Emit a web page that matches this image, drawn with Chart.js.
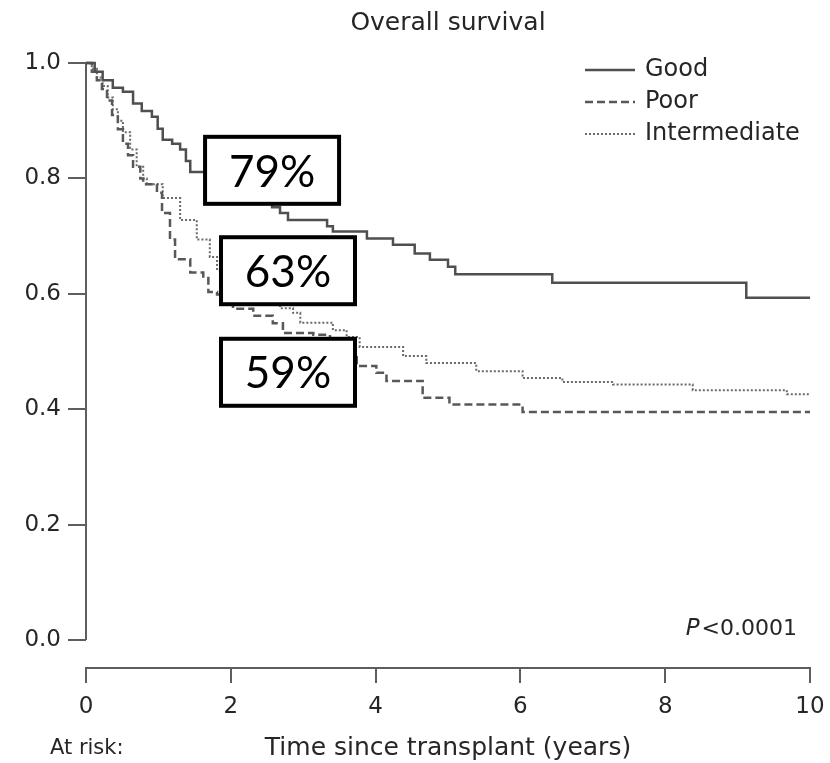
<!DOCTYPE html>
<html>
<head>
<meta charset="utf-8">
<title>Overall survival</title>
<script src="https://cdn.jsdelivr.net/npm/chart.js@4.4.1/dist/chart.umd.min.js"></script>
<style>
    html, body { margin: 0; padding: 0; background: #ffffff; }
    #wrap { width: 830px; height: 763px; }
</style>
</head>
<body>
<div id="wrap"><canvas id="survivalChart" width="830" height="763"></canvas></div>
<script>
// Kaplan-Meier data (time in years, survival proportion)
const goodTimes = [0, 0.12, 0.23, 0.37, 0.51, 0.65, 0.77, 0.91, 0.99, 1.06, 1.19, 1.30, 1.38, 1.44, 1.78, 2.13, 2.43, 2.57, 2.68, 2.79, 3.33, 3.41, 3.88, 4.24, 4.54, 4.75, 5.00, 5.10, 6.44, 9.12, 10.0];
const goodSurv = [1.0, 0.985, 0.97, 0.957, 0.95, 0.93, 0.917, 0.907, 0.886, 0.867, 0.86, 0.85, 0.83, 0.811, 0.79, 0.775, 0.76, 0.75, 0.74, 0.728, 0.717, 0.708, 0.696, 0.685, 0.670, 0.659, 0.647, 0.634, 0.619, 0.593, 0.593];

const poorTimes = [0, 0.08, 0.15, 0.22, 0.29, 0.36, 0.44, 0.51, 0.58, 0.65, 0.75, 0.79, 0.98, 1.05, 1.16, 1.23, 1.44, 1.62, 1.69, 1.81, 2.03, 2.31, 2.58, 2.72, 3.14, 3.37, 3.58, 3.74, 4.01, 4.15, 4.65, 5.02, 6.03, 10.0];
const poorSurv = [1.0, 0.985, 0.97, 0.955, 0.935, 0.91, 0.885, 0.86, 0.84, 0.82, 0.80, 0.79, 0.775, 0.74, 0.694, 0.66, 0.637, 0.630, 0.603, 0.599, 0.574, 0.562, 0.549, 0.532, 0.529, 0.51, 0.49, 0.475, 0.463, 0.449, 0.420, 0.408, 0.395, 0.395];

const intTimes = [0, 0.08, 0.15, 0.23, 0.30, 0.37, 0.44, 0.51, 0.61, 0.70, 0.79, 0.84, 1.06, 1.30, 1.53, 1.71, 1.81, 2.0, 2.33, 2.68, 2.86, 2.96, 3.41, 3.6, 3.78, 4.38, 4.70, 5.39, 6.03, 6.58, 7.28, 8.38, 9.68, 10.0];
const intSurv = [1.0, 0.99, 0.975, 0.96, 0.94, 0.92, 0.90, 0.88, 0.85, 0.82, 0.80, 0.79, 0.766, 0.728, 0.694, 0.664, 0.641, 0.63, 0.60, 0.575, 0.567, 0.55, 0.537, 0.525, 0.508, 0.492, 0.480, 0.466, 0.454, 0.447, 0.443, 0.433, 0.426, 0.426];

const seriesNames = ['Good', 'Poor', 'Intermediate'];
const xTickValues = [0, 2, 4, 6, 8, 10];
const yTickValues = [0, 0.2, 0.4, 0.6, 0.8, 1.0];

// Callout boxes (2-year survival labels)
const calloutLabels = ['79%', '63%', '59%'];
const calloutTimes = [2.57, 2.79, 2.79];
const calloutSurv = [0.814, 0.640, 0.464];

const FONT = "'DejaVu Sans', 'Liberation Sans', Arial, sans-serif";
const TEXT_COLOR = '#262626';
const AXIS_COLOR = '#5e5e5e';

function toPoints(times, surv) {
    return times.map((t, i) => ({ x: t, y: surv[i] }));
}

// Y axis line only spans 0..1 (the x axis sits a bit lower)
const yAxisLinePlugin = {
    id: 'yAxisLine',
    beforeDatasetsDraw(chart) {
        const { ctx, chartArea, scales } = chart;
        ctx.save();
        ctx.strokeStyle = AXIS_COLOR;
        ctx.lineWidth = 2;
        ctx.beginPath();
        ctx.moveTo(chartArea.left, scales.y.getPixelForValue(1));
        ctx.lineTo(chartArea.left, scales.y.getPixelForValue(0));
        ctx.stroke();
        ctx.restore();
    }
};

// Title centred over the plot area rather than the whole canvas
const plotTitlePlugin = {
    id: 'plotTitle',
    afterDraw(chart) {
        const { ctx, chartArea } = chart;
        ctx.save();
        ctx.font = '25px ' + FONT;
        ctx.fillStyle = TEXT_COLOR;
        ctx.textAlign = 'center';
        ctx.textBaseline = 'middle';
        ctx.fillText('Overall survival', (chartArea.left + chartArea.right) / 2, chartArea.top - 40);
        ctx.restore();
    }
};

// Legend drawn inside the plot, top right
const insideLegendPlugin = {
    id: 'insideLegend',
    afterDatasetsDraw(chart) {
        const { ctx, chartArea } = chart;
        const x0 = chartArea.right - 225;
        ctx.save();
        ctx.font = '24px ' + FONT;
        ctx.textBaseline = 'middle';
        chart.data.datasets.forEach((ds, i) => {
            const y = chartArea.top + 7 + i * 32;
            ctx.strokeStyle = ds.borderColor;
            ctx.lineWidth = ds.borderWidth;
            ctx.setLineDash(ds.borderDash || []);
            ctx.beginPath();
            ctx.moveTo(x0, y);
            ctx.lineTo(x0 + 50, y);
            ctx.stroke();
            ctx.setLineDash([]);
            ctx.fillStyle = TEXT_COLOR;
            ctx.fillText(ds.label, x0 + 60, y);
        });
        ctx.restore();
    }
};

// Boxed percentage labels, P value and "At risk:" text
const annotationsPlugin = {
    id: 'annotations',
    afterDraw(chart) {
        const { ctx, chartArea, scales } = chart;
        ctx.save();
        calloutLabels.forEach((label, i) => {
            const cx = scales.x.getPixelForValue(calloutTimes[i]);
            const cy = scales.y.getPixelForValue(calloutSurv[i]);
            const w = 134, h = 67;
            ctx.fillStyle = '#ffffff';
            ctx.fillRect(cx - w / 2, cy - h / 2, w, h);
            ctx.strokeStyle = '#000000';
            ctx.lineWidth = 4;
            ctx.strokeRect(cx - w / 2, cy - h / 2, w, h);
            ctx.fillStyle = '#000000';
            ctx.font = '44px Lato, Carlito, ' + FONT;
            ctx.textAlign = 'center';
            ctx.textBaseline = 'middle';
            ctx.fillText(label, cx, cy + 2);
        });

        // P value, bottom right of the plot
        const baseY = scales.y.getPixelForValue(0) - 5;
        ctx.textBaseline = 'alphabetic';
        ctx.textAlign = 'right';
        ctx.fillStyle = TEXT_COLOR;
        ctx.font = '22px ' + FONT;
        const rest = '<0.0001';
        const rightX = chartArea.right - 13;
        ctx.fillText(rest, rightX, baseY);
        const restW = ctx.measureText(rest).width;
        ctx.font = 'italic 23px ' + FONT;
        ctx.fillText('P', rightX - restW - 2, baseY);

        // "At risk:" label under the axis
        ctx.textAlign = 'left';
        ctx.textBaseline = 'middle';
        ctx.font = '21px ' + FONT;
        ctx.fillText('At risk:', chartArea.left - 36, 749);
        ctx.restore();
    }
};

const ctx = document.getElementById('survivalChart').getContext('2d');

new Chart(ctx, {
    type: 'line',
    data: {
        datasets: [
            {
                label: seriesNames[0],
                data: toPoints(goodTimes, goodSurv),
                borderColor: '#4f4f4f',
                borderWidth: 2.5,
                stepped: 'before',
                pointRadius: 0,
                clip: 6
            },
            {
                label: seriesNames[1],
                data: toPoints(poorTimes, poorSurv),
                borderColor: '#585858',
                borderWidth: 2.5,
                borderDash: [8, 4],
                stepped: 'before',
                pointRadius: 0,
                clip: 6
            },
            {
                label: seriesNames[2],
                data: toPoints(intTimes, intSurv),
                borderColor: '#6a6a6a',
                borderWidth: 2,
                borderDash: [2, 2],
                stepped: 'before',
                pointRadius: 0,
                clip: 6
            }
        ]
    },
    options: {
        responsive: false,
        animation: false,
        layout: {
            padding: { left: 0, right: 20, top: 63, bottom: 0 }
        },
        plugins: {
            legend: { display: false },
            tooltip: { enabled: false },
            title: { display: false }
        },
        scales: {
            x: {
                type: 'linear',
                min: 0,
                max: 10,
                afterBuildTicks: s => { s.ticks = xTickValues.map(v => ({ value: v })); },
                afterFit: s => {
                    s.height = 95;
                    s.paddingLeft = 0;
                    s.paddingRight = 0;
                },
                border: { display: true, color: AXIS_COLOR, width: 2 },
                grid: {
                    drawOnChartArea: false,
                    drawTicks: true,
                    tickLength: 15,
                    color: AXIS_COLOR,
                    lineWidth: 2
                },
                ticks: {
                    color: TEXT_COLOR,
                    font: { family: FONT, size: 23 },
                    padding: 10,
                    maxRotation: 0,
                    callback: v => String(v)
                },
                title: {
                    display: true,
                    text: 'Time since transplant (years)',
                    color: TEXT_COLOR,
                    font: { family: FONT, size: 25 },
                    padding: { top: 0, bottom: 0 }
                }
            },
            y: {
                type: 'linear',
                min: -0.0485,
                max: 1.0,
                afterBuildTicks: s => { s.ticks = yTickValues.map(v => ({ value: v })); },
                afterFit: s => {
                    s.width = 86;
                    s.paddingTop = 0;
                    s.paddingBottom = 0;
                },
                border: { display: false },
                grid: {
                    drawOnChartArea: false,
                    drawTicks: true,
                    tickLength: 18,
                    color: AXIS_COLOR,
                    lineWidth: 2
                },
                ticks: {
                    color: TEXT_COLOR,
                    font: { family: FONT, size: 23 },
                    padding: 7,
                    callback: v => Number(v).toFixed(1)
                }
            }
        }
    },
    plugins: [yAxisLinePlugin, plotTitlePlugin, insideLegendPlugin, annotationsPlugin]
});
</script>
</body>
</html>
